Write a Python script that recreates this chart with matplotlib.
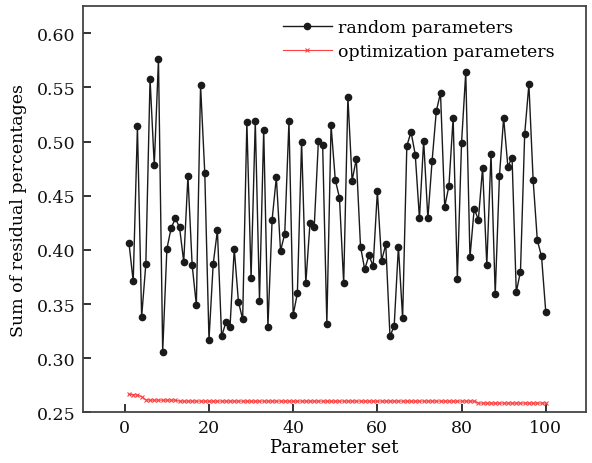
import matplotlib

matplotlib.use("Agg")
import matplotlib.pyplot as plt

plt.rcParams["font.family"] = ["DejaVu Serif"]

# 100 random parameter sets vs. optimized parameter sets
param_set = list(range(1, 101))

random_params = [
    0.406, 0.371, 0.514, 0.338, 0.387, 0.558, 0.478, 0.576, 0.306, 0.401,
    0.420, 0.429, 0.421, 0.389, 0.468, 0.386, 0.349, 0.552, 0.471, 0.317,
    0.387, 0.418, 0.320, 0.333, 0.329, 0.401, 0.352, 0.336, 0.518, 0.374,
    0.519, 0.353, 0.511, 0.329, 0.428, 0.467, 0.399, 0.415, 0.519, 0.340,
    0.360, 0.500, 0.369, 0.425, 0.421, 0.501, 0.497, 0.332, 0.515, 0.465,
    0.448, 0.369, 0.541, 0.464, 0.484, 0.403, 0.382, 0.395, 0.385, 0.454,
    0.390, 0.405, 0.320, 0.330, 0.403, 0.337, 0.496, 0.509, 0.488, 0.429,
    0.501, 0.429, 0.482, 0.528, 0.545, 0.440, 0.459, 0.522, 0.373, 0.499,
    0.564, 0.393, 0.438, 0.428, 0.476, 0.386, 0.489, 0.359, 0.468, 0.522,
    0.477, 0.485, 0.361, 0.380, 0.507, 0.553, 0.465, 0.409, 0.394, 0.343,
]

optim_params = [
    0.2665, 0.2663, 0.2660, 0.2645, 0.2615, 0.2612, 0.2612, 0.2612, 0.2612, 0.2612,
    0.2612, 0.2612, 0.2603, 0.2603, 0.2603, 0.2603, 0.2603, 0.2603, 0.2603, 0.2603,
    0.2603, 0.2603, 0.2603, 0.2603, 0.2603, 0.2603, 0.2603, 0.2603, 0.2603, 0.2603,
    0.2603, 0.2603, 0.2603, 0.2603, 0.2603, 0.2603, 0.2603, 0.2603, 0.2603, 0.2603,
    0.2603, 0.2603, 0.2603, 0.2603, 0.2603, 0.2603, 0.2603, 0.2603, 0.2603, 0.2603,
    0.2603, 0.2603, 0.2603, 0.2603, 0.2603, 0.2603, 0.2603, 0.2603, 0.2603, 0.2603,
    0.2603, 0.2603, 0.2603, 0.2603, 0.2603, 0.2603, 0.2603, 0.2603, 0.2603, 0.2603,
    0.2603, 0.2603, 0.2603, 0.2603, 0.2603, 0.2603, 0.2603, 0.2603, 0.2603, 0.2603,
    0.2603, 0.2603, 0.2603, 0.2585, 0.2585, 0.2585, 0.2585, 0.2585, 0.2585, 0.2585,
    0.2585, 0.2585, 0.2585, 0.2585, 0.2585, 0.2585, 0.2585, 0.2585, 0.2585, 0.2585,
]

x_ticks = [0, 20, 40, 60, 80, 100]
y_ticks = [0.25, 0.30, 0.35, 0.40, 0.45, 0.50, 0.55, 0.60]

fig = plt.figure(figsize=(5.92, 4.64), dpi=100)
ax = fig.add_axes([0.1397, 0.1093, 0.8497, 0.875])

ax.plot(param_set, random_params, "-o", color="#1a1a1a", linewidth=1.0,
        markersize=4.5, label="random parameters")
ax.plot(param_set, optim_params, "-x", color="#ff4040", linewidth=0.8,
        markersize=3.5, markeredgewidth=0.8, label="optimization parameters")

ax.set_xlim(-10, 109.5)
ax.set_ylim(0.25, 0.625)
ax.set_xticks(x_ticks)
ax.set_yticks(y_ticks)
ax.set_yticklabels([f"{v:.2f}" for v in y_ticks])
ax.tick_params(direction="in", length=6, width=1.2, labelsize=12.5,
               colors="#111111", pad=5)
for sp in ax.spines.values():
    sp.set_linewidth(1.3)
    sp.set_color("#444444")

ax.set_xlabel("Parameter set", fontsize=13, labelpad=1)
ax.set_ylabel("Sum of residual percentages", fontsize=12.5, labelpad=7)

ax.legend(loc="upper right", frameon=False, fontsize=12.5, numpoints=1,
          handlelength=2.8, handletextpad=0.35, borderaxespad=0.1,
          labelspacing=0.4, bbox_to_anchor=(0.955, 0.99))

fig.savefig("out.png", dpi=100)
